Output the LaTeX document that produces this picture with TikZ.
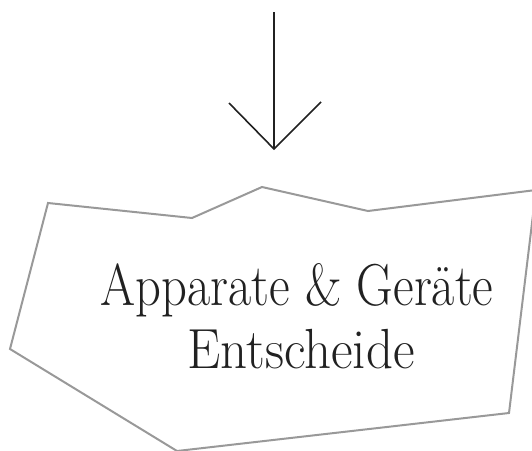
\documentclass[tikz,border=0pt]{standalone}
\usepackage{graphicx}
\tikzset{
  shapeline/.style={draw=black!40, line width=2pt, line join=miter},
  arrowline/.style={draw=black!87, line width=1.6pt},
  labeltext/.style={text=black!87, inner sep=0pt, font=\fontsize{58}{63}\selectfont, anchor=base}
}
\begin{document}
\begin{tikzpicture}[x=1pt,y=-1pt]
\useasboundingbox (0,0) rectangle (532,450);
\clip (0,0) rectangle (532,450);
% polygon
\draw[shapeline] (48,203) -- (192,218) -- (262,187) -- (368,211) -- (536,190) -- (509,413) -- (177,451) -- (10,349) -- cycle;
% arrow
\coordinate (top) at (274,12);
\coordinate (tip) at (274,149);
\coordinate (wl) at (229,103);
\coordinate (wr) at (321,102);
\draw[arrowline] (top) -- (tip);
\draw[arrowline, line join=miter] (wl) -- (tip) -- (wr);
% text
\node[labeltext] (l1) at (297,305) {\resizebox{393pt}{42pt}{\vphantom{A}Apparate \& Geräte}};
\node[labeltext] (l2) at (301,368) {\resizebox{227pt}{40pt}{\vphantom{A}Entscheide}};
\end{tikzpicture}
\end{document}
